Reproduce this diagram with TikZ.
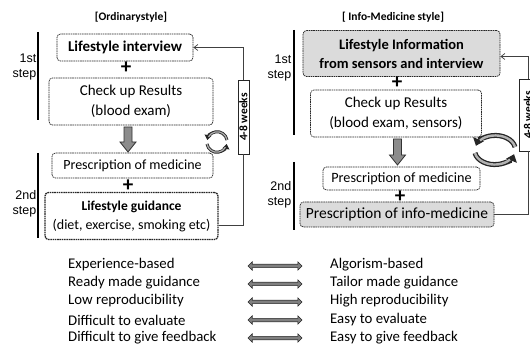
\documentclass[tikz,border=0pt]{standalone}
\usepackage{fontspec}
\setmainfont{Carlito}
\newfontfamily\steplabelfont{Liberation Sans}
\usetikzlibrary{arrows.meta,shapes.arrows,calc}

\begin{document}
\begin{tikzpicture}[x=1pt,y=-1pt,
  box/.style={draw=black!85, rounded corners=3.5pt, dash pattern=on 1.6pt off 0.7pt,
              line width=0.7pt, align=center, inner sep=0pt},
  shadedbox/.style={box, fill=black!14},
  boldbox/.style={box, line width=1.3pt},
  titletext/.style={font=\bfseries\fontsize{11.5}{13}\selectfont, inner sep=0pt},
  steptext/.style={font=\steplabelfont\fontsize{12.5}{14.5}\selectfont, align=right, inner sep=0pt, anchor=east},
  stepbar/.style={line width=2.2pt},
  weeksbox/.style={draw=black!85, line width=0.8pt, fill=white, inner sep=0pt},
  weekstext/.style={font=\bfseries\fontsize{11.5}{13}\selectfont, inner sep=0pt, rotate=90},
  loopline/.style={draw=black!75, line width=0.7pt},
  fatarrow/.style={draw=black!80, fill=black!45, line width=0.8pt, line join=miter},
  plussign/.style={font=\bfseries\fontsize{21}{21}\selectfont, inner sep=0pt},
  listtext/.style={font=\fontsize{14.8}{17}\selectfont, anchor=west, inner sep=0pt},
  twoway/.style={double arrow, draw=black!85, fill=black!50, line width=0.6pt,
              double arrow head extend=2.5pt, inner sep=1.4pt, minimum height=54pt},
  cyclearc/.style={line width=3pt, draw=black!85},
  cycleinner/.style={line width=1.2pt, draw=black!30}
]
\useasboundingbox (0,0) rectangle (530,347);
\clip (0,0) rectangle (530,347);

% ---------------- ordinary style ----------------
\node[titletext] (titleA) at (131,17) {[Ordinarystyle]};

\node[box, font=\bfseries\fontsize{15}{19}\selectfont, minimum width=136pt, minimum height=27pt] (interview) at (125,47.5)
  {Lifestyle interview};
\node[plussign] (plusA1) at (126,67.5) {+};
\node[box, font=\fontsize{15}{20}\selectfont, minimum width=164pt, minimum height=47pt] (checkA) at (131,101.5)
  {Check up Results\\(blood exam)};
\coordinate (downAtop) at (128,127);
\coordinate (downAtip) at (128,152);
\draw[fatarrow] ($(downAtop)+(-4,0)$) -- ($(downAtop)+(4,0)$) -- ($(downAtip)+(4,-10)$)
  -- ($(downAtip)+(8,-10)$) -- (downAtip) -- ($(downAtip)+(-8,-10)$)
  -- ($(downAtip)+(-4,-10)$) -- cycle;
\node[box, font=\fontsize{14}{16}\selectfont, minimum width=161pt, minimum height=25pt] (prescA) at (132.5,165.5)
  {Prescription of medicine};
\node[plussign] (plusA2) at (128,185.5) {+};
\node[boldbox, font=\fontsize{14}{19}\selectfont, minimum width=173pt, minimum height=47pt] (guide) at (131.5,216)
  {{\bfseries\fontsize{13.5}{19}\selectfont Lifestyle guidance}\\(diet, exercise, smoking etc)};

\node[steptext] (stepA1) at (36.5,67) {1st\\step};
\node[steptext] (stepA2) at (36.5,204) {2nd\\step};
\draw[stepbar] (38,32) -- (38,120);
\draw[stepbar] (38,153) -- (38,238);

\node[weeksbox, minimum width=11pt, minimum height=74pt] (weeksA) at (243.5,117) {};
\node[weekstext] (weeksAtext) at (weeksA.center) {4-8 weeks};
\draw[loopline] ([yshift=-9pt]guide.east) -| (weeksA.south);
\draw[loopline, -{Straight Barb[length=4pt,width=6pt]}] (weeksA.north) |- (interview.east);

% refresh symbol
\begin{scope}[shift={(217,142)}]
  \draw[cyclearc, -{Triangle[length=5pt,width=7pt]}] (10,-2) arc[start angle=-10, end angle=-170, radius=10];
  \draw[cyclearc, -{Triangle[length=5pt,width=7pt]}] (-10,2) arc[start angle=170, end angle=10, radius=10];
  \draw[cycleinner] (10,-2) arc[start angle=-10, end angle=-150, radius=10];
  \draw[cycleinner] (-10,2) arc[start angle=170, end angle=30, radius=10];
\end{scope}

% ---------------- info-medicine style ----------------
\node[titletext] (titleB) at (393,17) {[ Info-Medicine style]};

\node[shadedbox, font=\bfseries\fontsize{14.5}{19}\selectfont, minimum width=197pt, minimum height=46pt] (info) at (401.5,53.5)
  {Lifestyle Information\\from sensors and interview};
\node[plussign] (plusB1) at (397,82.5) {+};
\node[box, font=\fontsize{15}{20}\selectfont, minimum width=171pt, minimum height=47pt] (checkB) at (396,113.5)
  {Check up Results\\(blood exam, sensors)};
\coordinate (downBtop) at (397.5,139);
\coordinate (downBtip) at (397.5,165);
\draw[fatarrow] ($(downBtop)+(-4,0)$) -- ($(downBtop)+(4,0)$) -- ($(downBtip)+(4,-10)$)
  -- ($(downBtip)+(8,-10)$) -- (downBtip) -- ($(downBtip)+(-8,-10)$)
  -- ($(downBtip)+(-4,-10)$) -- cycle;
\node[box, font=\fontsize{14.2}{16}\selectfont, minimum width=157pt, minimum height=23pt] (prescB) at (401.5,178.5)
  {Prescription of medicine};
\node[plussign] (plusB2) at (400,196.5) {+};
\node[shadedbox, font=\fontsize{15.5}{18}\selectfont, minimum width=194pt, minimum height=25pt] (infomed) at (397,214.5)
  {Prescription of info-medicine};

\node[steptext] (stepB1) at (291.5,68) {1st\\step};
\node[steptext] (stepB2) at (291.5,195) {2nd\\step};
\draw[stepbar] (294,30) -- (294,135);
\draw[stepbar] (294,162) -- (294,230);

\node[weeksbox, minimum width=18pt, minimum height=72pt] (weeksB) at (528,115) {};
\node[weekstext] (weeksBtext) at (weeksB.center) {4-8 weeks};
\draw[loopline] (infomed.east) -| (weeksB.south);
\draw[loopline, -{Straight Barb[length=4pt,width=6pt]}] (weeksB.north) |- ([yshift=-3pt]info.east);

% larger refresh symbol
\begin{scope}[shift={(495,150)}]
  \draw[cyclearc, line width=5pt, -{Triangle[length=7pt,width=11pt]}] (20,-3) arc[start angle=-10, end angle=-165, x radius=20, y radius=14];
  \draw[cyclearc, line width=5pt, -{Triangle[length=7pt,width=11pt]}] (-20,3) arc[start angle=170, end angle=15, x radius=20, y radius=14];
  \draw[cycleinner, line width=2.4pt] (20,-3) arc[start angle=-10, end angle=-140, x radius=20, y radius=14];
  \draw[cycleinner, line width=2.4pt] (-20,3) arc[start angle=170, end angle=40, x radius=20, y radius=14];
\end{scope}

% ---------------- comparison list ----------------
\node[listtext] (l1) at (68,265) {Experience-based};
\node[listtext] (l2) at (68,283) {Ready made guidance};
\node[listtext] (l3) at (68,301) {Low reproducibility};
\node[listtext] (l4) at (68,320) {Difficult to evaluate};
\node[listtext] (l5) at (68,338) {Difficult to give feedback};

\node[twoway] (a1) at (275,266) {};
\node[twoway] (a2) at (275,284) {};
\node[twoway] (a3) at (275,302) {};
\node[twoway] (a4) at (275,320) {};
\node[twoway] (a5) at (275,338) {};

\node[listtext] (r1) at (330,265) {Algorism-based};
\node[listtext] (r2) at (330,283) {Tailor made guidance};
\node[listtext] (r3) at (330,301) {High reproducibility};
\node[listtext] (r4) at (330,320) {Easy to evaluate};
\node[listtext] (r5) at (330,338) {Easy to give feedback};
\end{tikzpicture}
\end{document}
